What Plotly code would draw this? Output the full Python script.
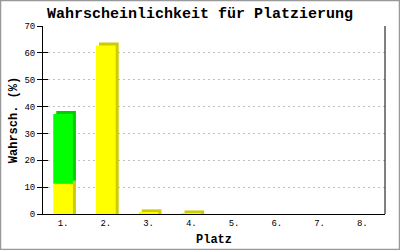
import plotly.graph_objects as go

# Data
places = [1, 2, 3, 4, 5, 6, 7, 8]
tick_labels = ["1.", "2.", "3.", "4.", "5.", "6.", "7.", "8."]
yellow_vals = [11.3, 62.7, 0.6, 0.2, 0, 0, 0, 0]
green_vals = [25.9, 0, 0, 0, 0, 0, 0, 0]

# Layout geometry (pixels)
W, H = 400, 250
ML, MR, MT, MB = 43, 15, 26, 36
PW, PH = W - ML - MR, H - MT - MB
YMAX = 70
XR = [0.53, 8.53]

bar_w = 0.46
dx = 3 * (XR[1] - XR[0]) / PW      # 3px depth in x units
dy = 3 * YMAX / PH                  # 3px depth in y units

YEL, YEL_D = "#ffff00", "#cccc00"
GRN, GRN_D = "#00ff00", "#00cc00"

fig = go.Figure()

# shadow (depth) bars
ys_h = [v + dy if v > 0 else 0 for v in yellow_vals]
gs_base = [yv + dy for yv in yellow_vals]
fig.add_trace(go.Bar(x=places, y=ys_h, base=0, width=bar_w, offset=-bar_w / 2 + dx,
                     marker=dict(color=YEL_D, line=dict(width=0)), showlegend=False, hoverinfo="skip"))
fig.add_trace(go.Bar(x=places, y=green_vals, base=gs_base, width=bar_w, offset=-bar_w / 2 + dx,
                     marker=dict(color=GRN_D, line=dict(width=0)), showlegend=False, hoverinfo="skip"))
# front bars
fig.add_trace(go.Bar(x=places, y=yellow_vals, base=0, width=bar_w, offset=-bar_w / 2,
                     marker=dict(color=YEL, line=dict(width=0)), name="Platz", showlegend=False))
fig.add_trace(go.Bar(x=places, y=green_vals, base=yellow_vals, width=bar_w, offset=-bar_w / 2,
                     marker=dict(color=GRN, line=dict(width=0)), name="Zusatz", showlegend=False))

mono = "Liberation Mono"
fig.update_layout(
    width=W, height=H,
    margin=dict(l=ML, r=MR, t=MT, b=MB),
    barmode="overlay",
    paper_bgcolor="white", plot_bgcolor="white",
    title=dict(text="<b>Wahrscheinlichkeit für Platzierung</b>", x=0.5, xanchor="center",
               y=1 - 13 / H, yanchor="middle", yref="container",
               font=dict(family=mono, size=15, color="black")),
    xaxis=dict(range=XR, tickmode="array", tickvals=places, ticktext=tick_labels, automargin=False,
               showline=True, linecolor="black", linewidth=1, showgrid=False, zeroline=False,
               ticks="", tickfont=dict(family=mono, size=9, color="black"),
               title=dict(text="<b>Platz</b>", font=dict(family=mono, size=12, color="black"), standoff=6)),
    yaxis=dict(range=[0, YMAX], tickmode="linear", tick0=0, dtick=10, automargin=False,
               showline=True, linecolor="black", linewidth=1,
               showgrid=True, gridcolor="#c0c0c0", gridwidth=1, griddash="2px,3px",
               zeroline=False, ticks="outside", ticklen=5, tickcolor="black",
               tickfont=dict(family=mono, size=9, color="black"),
               title=dict(text="<b>Wahrsch. (%)</b>", font=dict(family=mono, size=12, color="black"), standoff=4)),
    yaxis2=dict(range=[0, YMAX], overlaying="y", side="left", tickmode="linear", tick0=0, dtick=10,
                ticks="inside", ticklen=5, tickcolor="black", showticklabels=False, automargin=False,
                showgrid=False, zeroline=False, showline=False),
    shapes=[
        dict(type="line", xref="paper", yref="paper", x0=1, x1=1, y0=0, y1=1,
             line=dict(color="black", width=1)),
        dict(type="rect", xref="paper", yref="paper",
             x0=(0.5 - ML) / PW, x1=(W - 0.5 - ML) / PW,
             y0=((H - MB) - (H - 0.5)) / PH, y1=((H - MB) - 0.5) / PH,
             line=dict(color="#999999", width=1.5)),
    ],
)
# dummy trace to activate yaxis2
fig.add_trace(go.Scatter(x=[places[0]], y=[0], yaxis="y2", mode="markers",
                         marker=dict(opacity=0), showlegend=False, hoverinfo="skip"))

fig.write_html("out.html")
